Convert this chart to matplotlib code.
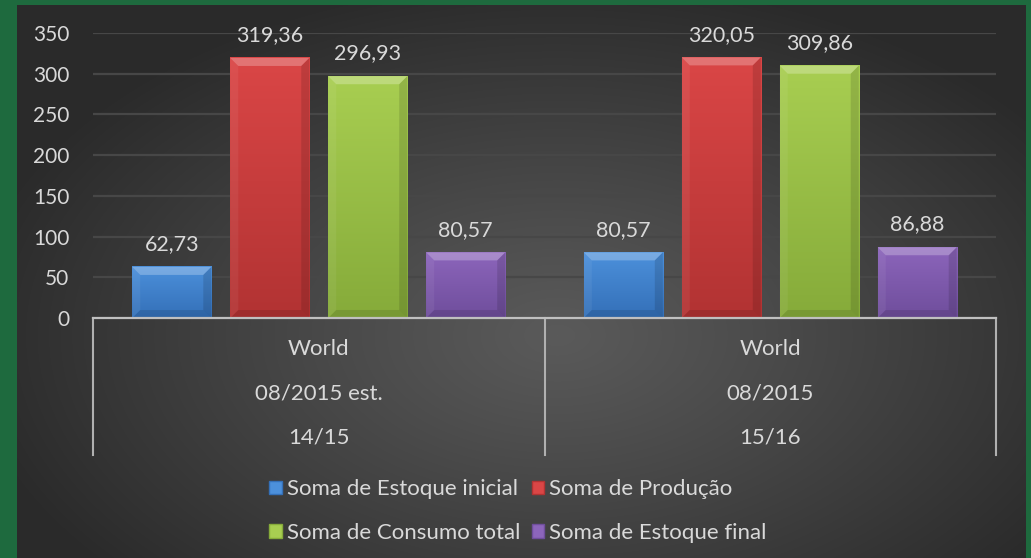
import numpy as np
import matplotlib.pyplot as plt
from matplotlib.patches import Patch, Polygon
from matplotlib.colors import LinearSegmentedColormap

# dados
grupos = ["World", "World"]
datas = ["08/2015 est.", "08/2015"]
safras = ["14/15", "15/16"]
series = ["Soma de Estoque inicial", "Soma de Produção",
          "Soma de Consumo total", "Soma de Estoque final"]
estoque_inicial = [62.73, 80.57]
producao = [319.36, 320.05]
consumo_total = [296.93, 309.86]
estoque_final = [80.57, 86.88]
valores = [estoque_inicial, producao, consumo_total, estoque_final]

# cores (topo, base)
cores = [("#4c90db", "#3470b8"), ("#da4646", "#b23333"),
         ("#a8ce51", "#86ab3a"), ("#8c65bb", "#6f4e9c")]
cor_texto = "#d9d9d9"
plt.rcParams['font.family'] = ['Lato', 'DejaVu Sans']

W, H = 1031, 558
fig = plt.figure(figsize=(W / 100, H / 100), dpi=100, facecolor="#1e6a3e")

# fundo com gradiente radial
bg = fig.add_axes([17 / W, 0, 1009 / W, 553 / H])
yy, xx = np.mgrid[0:553, 0:1009]
r = np.sqrt(((xx - 540) / 600) ** 2 + ((yy - 330) / 360) ** 2)
g = np.clip(0x5a - (0x5a - 0x2a) * np.clip(r, 0, 1) ** 1.1, 0, 255) / 255
bg.imshow(np.dstack([g, g, g]), aspect="auto", interpolation="bilinear")
bg.set_axis_off()

# area do grafico
x0, x1, y0, y1 = 93, 996, 318, 33
ax = fig.add_axes([x0 / W, 1 - y0 / H, (x1 - x0) / W, (y0 - y1) / H])
ax.patch.set_alpha(0)
ax.set_xlim(-0.5, 1.5)
ax.set_ylim(0, 350)
ax.set_yticks(np.arange(0, 351, 50))
ax.tick_params(axis="y", length=0, pad=17, labelcolor=cor_texto, labelsize=15)
ax.set_xticks([])
ax.grid(axis="y", color="#474747", linewidth=1.6)
ax.set_axisbelow(True)
for s in ["top", "right", "left"]:
    ax.spines[s].set_visible(False)
ax.spines["bottom"].set_color("#c0c0c0")
ax.spines["bottom"].set_linewidth(1.6)
ax.spines["bottom"].set_zorder(5)

x = np.arange(len(grupos))
largura = 0.175
passo = 0.217
px_x = (x1 - x0) / 2.0      # pixels por unidade x
px_y = (y0 - y1) / 350.0    # pixels por unidade y
bev = 8
dx, dy = bev / px_x, bev / px_y

handles = []
for i, (nome, vals, (c_top, c_bot)) in enumerate(zip(series, valores, cores)):
    pos = x + (i - 1.5) * passo
    barras = ax.bar(pos, vals, width=largura, color=c_bot, zorder=2)
    cmap = LinearSegmentedColormap.from_list("g%d" % i, [c_bot, c_top])
    for rect, v in zip(barras, vals):
        bx, bw, bh = rect.get_x(), rect.get_width(), rect.get_height()
        grad = np.linspace(1, 0, 100).reshape(-1, 1)
        ax.imshow(grad, extent=[bx, bx + bw, 0, bh], aspect="auto", cmap=cmap,
                  zorder=3, vmin=0, vmax=1)
        topo = [(bx, bh), (bx + bw, bh), (bx + bw - dx, bh - dy), (bx + dx, bh - dy)]
        esq = [(bx, 0), (bx, bh), (bx + dx, bh - dy), (bx + dx, dy)]
        dir_ = [(bx + bw, 0), (bx + bw, bh), (bx + bw - dx, bh - dy), (bx + bw - dx, dy)]
        base = [(bx, 0), (bx + bw, 0), (bx + bw - dx, dy), (bx + dx, dy)]
        ax.add_patch(Polygon(topo, closed=True, facecolor="white", alpha=0.25,
                             edgecolor="none", zorder=4))
        ax.add_patch(Polygon(esq, closed=True, facecolor="white", alpha=0.06,
                             edgecolor="none", zorder=4))
        ax.add_patch(Polygon(dir_, closed=True, facecolor="black", alpha=0.12,
                             edgecolor="none", zorder=4))
        ax.add_patch(Polygon(base, closed=True, facecolor="black", alpha=0.1,
                             edgecolor="none", zorder=4))
        ax.annotate(f"{v:.2f}".replace(".", ","), (bx + bw / 2, bh),
                    xytext=(0, 12), textcoords="offset points", ha="center",
                    va="baseline", color=cor_texto, fontsize=15.5)
    handles.append(Patch(facecolor=c_top, edgecolor=c_bot, label=nome))

# eixo de categorias em varios niveis
trans = ax.get_xaxis_transform()
base_y = -(455 - y0) / (y0 - y1)
for xv in [-0.5, 0.5, 1.5]:
    ax.plot([xv, xv], [0, base_y], transform=trans, color="#b0b0b0",
            linewidth=1.5, clip_on=False, zorder=5)
niveis = [(grupos, 349), (datas, 393), (safras, 437)]
for labels, ypx in niveis:
    for xv, lab in zip(x, labels):
        ax.text(xv, -(ypx - y0) / (y0 - y1), lab, transform=trans, ha="center",
                va="center", color=cor_texto, fontsize=16)

# legenda (ordem por linha)
ordem = [handles[0], handles[2], handles[1], handles[3]]
fig.legend(handles=ordem, loc="center", bbox_to_anchor=(518 / W, 1 - 511 / H),
           ncol=2, frameon=False, fontsize=16, labelcolor=cor_texto,
           handlelength=0.55, handleheight=0.55, handletextpad=0.25,
           columnspacing=0.5, labelspacing=1.05)

fig.savefig("out.png", dpi=100, facecolor=fig.get_facecolor())
